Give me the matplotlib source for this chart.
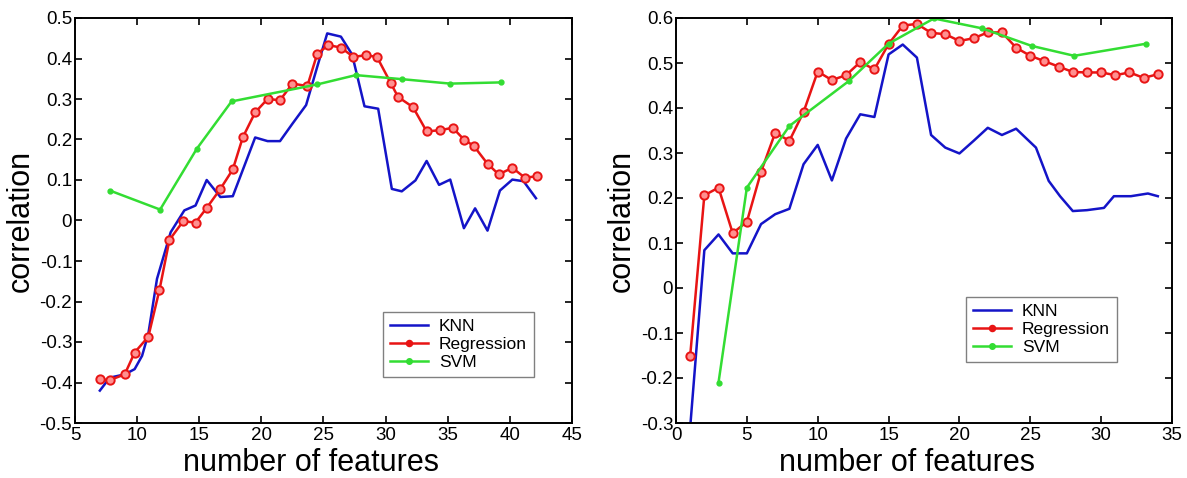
import matplotlib
matplotlib.use("Agg")
import matplotlib.pyplot as plt
from matplotlib.ticker import FuncFormatter, MultipleLocator

plt.rcParams['font.family'] = ['Liberation Sans', 'DejaVu Sans']
plt.rcParams['axes.unicode_minus'] = False

# Left panel values.
knn_x_left = [7, 7.8, 9, 9.8, 10.4, 10.9, 11.6, 12.7, 13.8, 14.7, 15.6, 16.7, 17.7, 19.5, 20.5, 21.5,
              22.5, 23.6, 24.5, 25.3, 26.4, 27.3, 28.3, 29.4, 30.5, 31.3, 32.4, 33.3, 34.3, 35.2, 36.3,
              37.2, 38.2, 39.2, 40.2, 41.1, 42.1]
knn_y_left = [-0.42, -0.388, -0.38, -0.367, -0.334, -0.28, -0.144, -0.029, 0.025, 0.037, 0.10, 0.058,
              0.06, 0.205, 0.196, 0.196, 0.239, 0.285, 0.38, 0.462, 0.454, 0.41, 0.282, 0.276, 0.078,
              0.072, 0.099, 0.147, 0.088, 0.101, -0.019, 0.030, -0.025, 0.074, 0.101, 0.097, 0.055]
reg_x_left = [7, 7.8, 9, 9.8, 10.9, 11.8, 12.6, 13.7, 14.7, 15.6, 16.7, 17.7, 18.5, 19.5, 20.5, 21.5,
              22.5, 23.7, 24.5, 25.4, 26.4, 27.4, 28.4, 29.3, 30.4, 31.0, 32.2, 33.3, 34.4, 35.4, 36.3,
              37.1, 38.2, 39.1, 40.2, 41.2, 42.2]
reg_y_left = [-0.392, -0.394, -0.38, -0.326, -0.287, -0.171, -0.048, -0.002, -0.005, 0.031, 0.078,
              0.126, 0.205, 0.267, 0.30, 0.297, 0.338, 0.332, 0.412, 0.433, 0.427, 0.404, 0.408, 0.404,
              0.34, 0.305, 0.28, 0.22, 0.223, 0.229, 0.2, 0.184, 0.14, 0.114, 0.13, 0.106, 0.109]
svm_x_left = [7.8, 11.85, 14.8, 17.6, 24.5, 27.6, 31.3, 35.2, 39.3]
svm_y_left = [0.074, 0.027, 0.177, 0.294, 0.336, 0.359, 0.349, 0.338, 0.341]

# Right panel values.
knn_x_right = [1, 2, 3, 4, 5, 6, 7, 8, 9, 10, 11, 12, 13, 14, 15, 16, 17, 18, 19, 20, 21, 22, 23, 24,
               25.4, 26.3, 27.1, 28, 29, 30.2, 30.9, 32.1, 33.3, 34]
knn_y_right = [-0.31, 0.084, 0.119, 0.077, 0.077, 0.142, 0.164, 0.176, 0.275, 0.318, 0.239, 0.332,
               0.386, 0.38, 0.519, 0.541, 0.512, 0.34, 0.312, 0.299, 0.327, 0.356, 0.34, 0.354, 0.312,
               0.238, 0.204, 0.171, 0.173, 0.178, 0.204, 0.204, 0.21, 0.204]
reg_x_right = list(range(1, 35))
reg_y_right = [-0.151, 0.206, 0.223, 0.122, 0.147, 0.258, 0.345, 0.327, 0.391, 0.481, 0.462, 0.473,
               0.502, 0.486, 0.542, 0.583, 0.587, 0.567, 0.564, 0.549, 0.555, 0.568, 0.568, 0.534,
               0.516, 0.504, 0.492, 0.48, 0.479, 0.479, 0.473, 0.479, 0.467, 0.475]
svm_x_right = [3, 5, 8, 12.2, 15, 18.2, 21.6, 25.1, 28.1, 33.2]
svm_y_right = [-0.21, 0.223, 0.36, 0.46, 0.543, 0.599, 0.577, 0.538, 0.516, 0.543]

series_names = ['KNN', 'Regression', 'SVM']
blue = '#1414c8'
red = '#e81414'
green = '#33dd33'


def tick_fmt(v, pos):
	return '%g' % round(v, 6)


def draw_panel(ax, knn, reg, svm, xlim, ylim, legend_xy, xlabel_x):
	ax.plot(knn[0], knn[1], color=blue, lw=1.8, label=series_names[0])
	ax.plot(reg[0], reg[1], color=red, lw=1.8, marker='o', ms=6, mfc='#ff9090', mec=red, mew=1.4,
			label=series_names[1])
	ax.plot(svm[0], svm[1], color=green, lw=1.8, marker='o', ms=3.5, mfc=green, mec=green,
			label=series_names[2])
	ax.set_xlim(*xlim)
	ax.set_ylim(*ylim)
	ax.xaxis.set_major_locator(MultipleLocator(5))
	ax.yaxis.set_major_locator(MultipleLocator(0.1))
	ax.xaxis.set_major_formatter(FuncFormatter(tick_fmt))
	ax.yaxis.set_major_formatter(FuncFormatter(tick_fmt))
	ax.tick_params(direction='in', length=5, width=1.2, top=True, right=True, labelsize=13.5, pad=3,
				   colors='black')
	ax.tick_params(axis='y', pad=2)
	for s in ax.spines.values():
		s.set_linewidth(1.4)
	ax.set_xlabel('number of features', fontsize=22, labelpad=3)
	ax.xaxis.label.set_x(xlabel_x)
	ax.set_ylabel('correlation', fontsize=22, labelpad=3)
	leg = ax.legend(loc='upper left', bbox_to_anchor=legend_xy, fontsize=12.5, fancybox=False,
					edgecolor='#808080', framealpha=1, handlelength=2.2, borderpad=0.4,
					labelspacing=0.15, handletextpad=0.6, borderaxespad=0)
	leg.get_frame().set_linewidth(1.0)
	# smaller dots in legend
	for h in leg.legend_handles[1:]:
		h.set_markersize(4)
		h.set_markerfacecolor(h.get_color())


fig = plt.figure(figsize=(11.87, 4.78), dpi=100)
ax1 = fig.add_axes([75 / 1187, 55 / 478, 497 / 1187, 405 / 478])
ax2 = fig.add_axes([676 / 1187, 55 / 478, 496 / 1187, 405 / 478])

draw_panel(ax1, (knn_x_left, knn_y_left), (reg_x_left, reg_y_left), (svm_x_left, svm_y_left),
		   (5, 45), (-0.5, 0.5), (0.62, 0.274), 0.475)
draw_panel(ax2, (knn_x_right, knn_y_right), (reg_x_right, reg_y_right), (svm_x_right, svm_y_right),
		   (0, 35), (-0.3, 0.6), (0.585, 0.311), 0.465)

fig.savefig('out.png', dpi=100)
